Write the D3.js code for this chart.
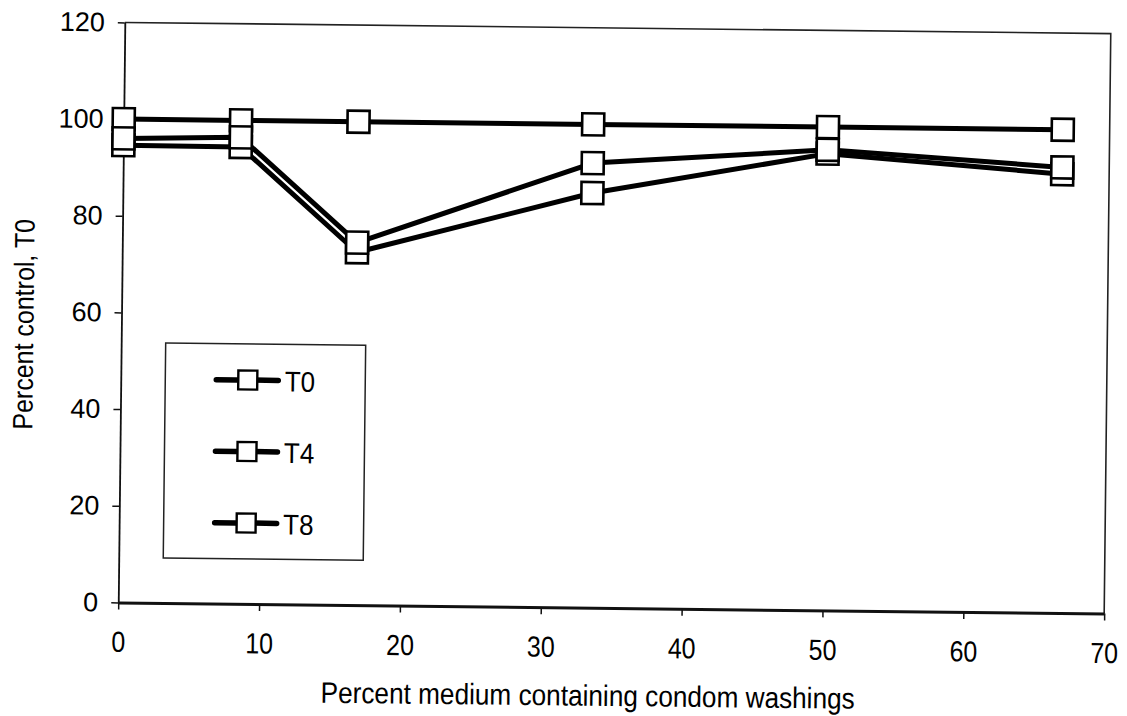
<!DOCTYPE html>
<html>
<head>
<meta charset="utf-8">
<script src="https://cdn.jsdelivr.net/npm/d3@7"></script>
<style>
  html, body { margin: 0; padding: 0; background: #fff; }
  svg { display: block; font-family: "Liberation Sans", Arial, sans-serif; }
</style>
</head>
<body>
<svg id="chart" width="1127" height="716"></svg>
<script>
// ---- data ----
const xValues = [0, 8.33, 16.67, 33.33, 50, 66.67];
const seriesNames = ["T0", "T4", "T8"];
const t0Values = [100, 100, 100, 100, 100, 100];
const t4Values = [94.6, 94.5, 73.0, 85.8, 94.5, 90.8];
const t8Values = [96.0, 96.5, 75.0, 92.0, 95.3, 92.2];
const xTicks = [0, 10, 20, 30, 40, 50, 60, 70];
const yTicks = [0, 20, 40, 60, 80, 100, 120];
const xTitle = "Percent medium containing condom washings";
const yTitle = "Percent control, T0";

const seriesValues = [t0Values, t4Values, t8Values];

// ---- layout ----
const L = 121.5, R = 1107.5, T = 28, B = 608;

const svg = d3.select("#chart");
const root = svg.append("g").attr("transform", "rotate(0.65, 614.5, 318)");

const x = d3.scaleLinear().domain([0, 70]).range([L, R]);
const y = d3.scaleLinear().domain([0, 120]).range([B, T]);

// frame top & right
root.append("path")
  .attr("d", `M${L},${T}H${R}V${B}`)
  .attr("fill", "none").attr("stroke", "#222").attr("stroke-width", 1.6);

// y axis
const yAxis = root.append("g").attr("transform", `translate(${L},0)`)
  .call(d3.axisLeft(y).tickValues(yTicks).tickSize(7).tickSizeOuter(0).tickPadding(13));
yAxis.select(".domain").attr("stroke", "#111").attr("stroke-width", 1.8);
yAxis.selectAll(".tick line").attr("stroke", "#111").attr("stroke-width", 1.5);
yAxis.selectAll(".tick text").attr("font-size", 27).attr("fill", "#000")
  .attr("font-family", "Liberation Sans, Arial, sans-serif");

// x axis
const xAxis = root.append("g").attr("transform", `translate(0,${B})`)
  .call(d3.axisBottom(x).tickValues(xTicks).tickSize(7).tickSizeOuter(0));
xAxis.select(".domain").attr("stroke", "#111").attr("stroke-width", 3);
xAxis.selectAll(".tick line").attr("stroke", "#111").attr("stroke-width", 1.5);
xAxis.selectAll(".tick text")
  .attr("font-size", 25).attr("fill", "#000")
  .attr("font-family", "Liberation Sans, Arial, sans-serif")
  .attr("y", 0).attr("dy", 0)
  .attr("transform", "translate(0,49.5) scale(1,1.16)");

// series
const line = d3.line().x((d, i) => x(xValues[i])).y(d => y(d));
const MS = 22;
seriesValues.forEach((vals, si) => {
  const g = root.append("g").attr("class", "series s" + si);
  g.append("path").datum(vals)
    .attr("d", line)
    .attr("fill", "none").attr("stroke", "#000")
    .attr("stroke-width", 5).attr("stroke-linejoin", "round");
  g.selectAll("rect").data(vals).enter().append("rect")
    .attr("x", (d, i) => x(xValues[i]) - MS / 2)
    .attr("y", d => y(d) - MS / 2)
    .attr("width", MS).attr("height", MS)
    .attr("fill", "#fff").attr("stroke", "#000").attr("stroke-width", 2.6);
});

// legend
const lg = root.append("g");
lg.append("rect").attr("x", 166).attr("y", 348).attr("width", 200).attr("height", 215)
  .attr("fill", "#fff").attr("stroke", "#222").attr("stroke-width", 1.5);
const LMS = 19;
seriesNames.forEach((name, i) => {
  const cy = 384.2 + i * 71.5;
  lg.append("line").attr("x1", 217).attr("x2", 279).attr("y1", cy).attr("y2", cy)
    .attr("stroke", "#000").attr("stroke-width", 5.5).attr("stroke-linecap", "round");
  lg.append("rect").attr("x", 248.5 - LMS / 2).attr("y", cy - LMS / 2)
    .attr("width", LMS).attr("height", LMS)
    .attr("fill", "#fff").attr("stroke", "#000").attr("stroke-width", 2.4);
  lg.append("text").attr("transform", `translate(285.5,${cy + 11}) scale(1,1.1)`)
    .attr("font-size", 26).attr("fill", "#000").text(name);
});

// axis titles
root.append("text")
  .attr("transform", "translate(592,706) scale(1,1.13)")
  .attr("text-anchor", "middle").attr("font-size", 26.2).attr("fill", "#000")
  .text(xTitle);
root.append("text")
  .attr("transform", "translate(33.5,331) rotate(-90) scale(1,1.12)")
  .attr("text-anchor", "middle").attr("font-size", 25).attr("fill", "#000")
  .text(yTitle);
</script>
</body>
</html>
